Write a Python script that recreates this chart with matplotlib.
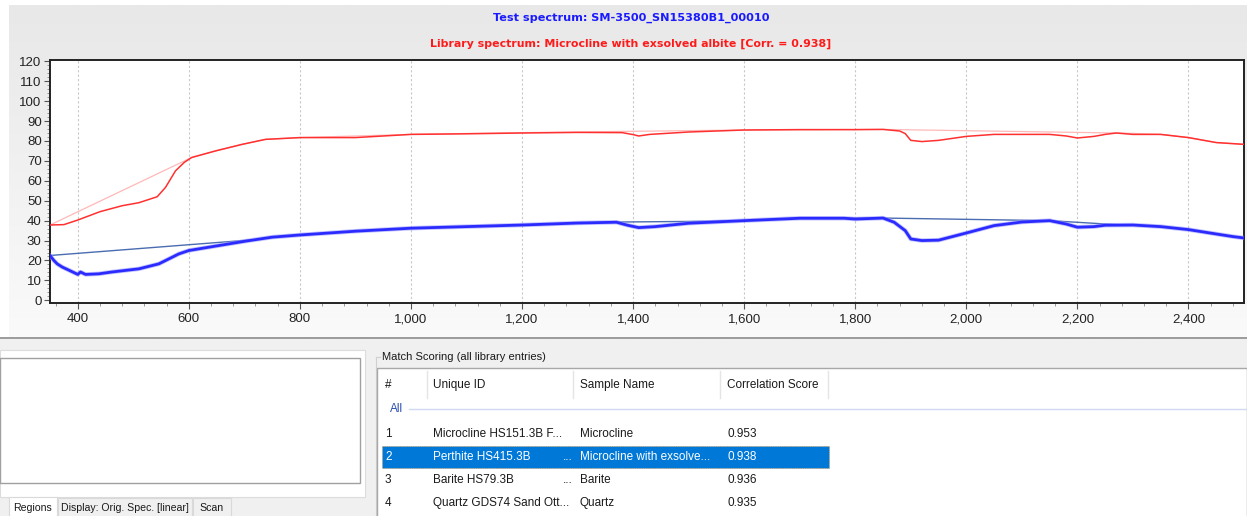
import matplotlib

matplotlib.use("Agg")
import matplotlib.pyplot as plt
import numpy as np
from matplotlib.colors import LinearSegmentedColormap
from matplotlib.patches import Rectangle
from matplotlib.ticker import FuncFormatter, MultipleLocator

W, H = 1247, 516

# ── Spectra (wavelength nm, reflectance %) ──────────────────────────────
lib_wl = [350, 375, 400, 440, 480, 510, 543, 558, 576, 592,
          605, 648, 696, 738, 800, 900, 1000, 1100, 1200, 1300,
          1380, 1400, 1410, 1430, 1500, 1600, 1700, 1800, 1850, 1880,
          1890, 1900, 1920, 1950, 2000, 2050, 2100, 2150, 2180, 2200,
          2230, 2250, 2270, 2300, 2350, 2400, 2450, 2500]
lib_val = [37.8, 38, 40.3, 44.5, 47.5, 49, 52, 56.7, 65, 69.3,
           71.7, 75, 78.3, 80.8, 81.7, 81.7, 83.3, 83.6, 84, 84.3,
           84.2, 83.2, 82.5, 83.3, 84.5, 85.5, 85.7, 85.7, 85.8, 85,
           83.7, 80.3, 79.7, 80.3, 82.3, 83.3, 83.3, 83.3, 82.5, 81.5,
           82.3, 83.3, 84, 83.3, 83.3, 81.7, 79.2, 78.3]
lib_hull_wl = [350, 605, 648, 696, 738, 800, 900, 1000, 1200, 1600,
               1850, 2270, 2300, 2350, 2400, 2450, 2500]
lib_hull_val = [37.8, 71.7, 75, 78.3, 80.8, 81.7, 82.5, 83.3, 84.2, 85.5,
                85.8, 84, 83.8, 83.3, 81.7, 79.2, 78.3]

test_wl = [350, 357, 363, 372, 385, 400, 405, 414, 438, 461,
           510, 546, 564, 582, 600, 654, 702, 750, 800, 900,
           1000, 1100, 1200, 1300, 1370, 1390, 1410, 1440, 1500, 1600,
           1700, 1780, 1800, 1850, 1870, 1890, 1900, 1920, 1950, 2000,
           2050, 2100, 2150, 2180, 2200, 2230, 2250, 2300, 2350, 2400,
           2450, 2480, 2500]
test_val = [22.5, 20, 18.3, 16.7, 15, 13, 14.2, 13, 13.3, 14.2,
            15.8, 18.3, 20.8, 23.3, 25, 27.5, 29.7, 31.7, 32.8, 34.7,
            36.2, 37, 37.8, 38.8, 39.2, 37.7, 36.5, 37, 38.7, 40,
            41.2, 41.2, 40.8, 41.3, 39.2, 35, 30.8, 30, 30.2, 33.8,
            37.5, 39.3, 40, 38.3, 36.7, 37, 37.7, 37.8, 37, 35.5,
            33.3, 32, 31.3]
test_hull_wl = [350, 720, 750, 800, 900, 1000, 1100, 1200, 1300, 1370,
                1500, 1600, 1700, 1780, 1850, 2150, 2270, 2300, 2350, 2400,
                2450, 2480, 2500]
test_hull_val = [22.5, 30.5, 31.7, 32.8, 34.7, 36.2, 37, 37.8, 38.8, 39.3,
                 39.6, 40, 41.2, 41.2, 41.3, 40, 38, 37.8, 37, 35.5,
                 33.3, 32, 31.3]

test_title = "Test spectrum: SM-3500_SN15380B1_00010"
lib_title = "Library spectrum: Microcline with exsolved albite [Corr. = 0.938]"

# ── Match scoring table ─────────────────────────────────────────────────
col_headers = ["#", "Unique ID", "Sample Name", "Correlation Score"]
rank = ["1", "2", "3", "4"]
unique_ids = ["Microcline HS151.3B F...", "Perthite HS415.3B", "Barite HS79.3B",
              "Quartz GDS74 Sand Ott..."]
sample_names = ["Microcline", "Microcline with exsolve...", "Barite", "Quartz"]
scores = ["0.953", "0.938", "0.936", "0.935"]
selected_row = 1
tab_labels = ["Regions", "Display: Orig. Spec. [linear]", "Scan"]

UI_FONT = ["Liberation Sans", "DejaVu Sans"]


def box(x0, y0, x1, y1):
    """Pixel box (top-left origin) -> figure fraction rect."""
    return [x0 / W, 1 - y1 / H, (x1 - x0) / W, (y1 - y0) / H]


fig = plt.figure(figsize=(W / 100, H / 100), dpi=100, facecolor="white")

# overlay axes in pixel coordinates for the window chrome
ui = fig.add_axes([0, 0, 1, 1], zorder=0)
ui.set_xlim(0, W)
ui.set_ylim(H, 0)
ui.axis("off")

# chart panel with a soft vertical gradient
grad = np.linspace(0, 1, 256).reshape(-1, 1)
panel_cmap = LinearSegmentedColormap.from_list("panel", ["#e8e8e8", "#fafafa"])
ui.imshow(grad, extent=(9, W, 337, 5), cmap=panel_cmap, aspect="auto", zorder=0)
ui.plot([0, W], [337.5, 337.5], color="#8a8a8a", lw=1.2, zorder=1)

# lower form background
ui.add_patch(Rectangle((0, 338.5), W, H - 338.5, facecolor="#f0f0f0", edgecolor="none", zorder=0))

# left tab page
ui.add_patch(Rectangle((0, 350), 365, 147, facecolor="white", edgecolor="#dcdcdc", lw=0.8, zorder=1))
ui.add_patch(Rectangle((0, 358), 360, 125, facecolor="white", edgecolor="#a0a0a0", lw=1.0, zorder=2))
tab_x = [(9, 57), (58, 192), (193, 231)]
for i, (lab, (x0, x1)) in enumerate(zip(tab_labels, tab_x)):
    fc = "white" if i == 0 else "#f0f0f0"
    ui.add_patch(Rectangle((x0, 497 if i == 0 else 498), x1 - x0, 20, facecolor=fc,
                           edgecolor="#d9d9d9", lw=0.8, zorder=2))
    ui.text((x0 + x1) / 2, 508, lab, fontsize=7.6, family=UI_FONT, va="center", ha="center",
            color="#1a1a1a", zorder=3)

# match scoring group + list
ui.plot([376, 380], [357, 357], color="#d0d0d0", lw=0.8, zorder=1)
ui.plot([376, 376], [357, H], color="#d0d0d0", lw=0.8, zorder=1)
ui.text(382, 357, "Match Scoring (all library entries)", fontsize=8, family=UI_FONT,
        va="center", ha="left", color="#1a1a1a", zorder=3)
ui.add_patch(Rectangle((377, 368), W - 377, H - 368 + 2, facecolor="white",
                       edgecolor="#a8a8a8", lw=1.0, zorder=2))
col_x = [385, 433, 580, 727]
for sx in [426.5, 573, 720, 828]:
    ui.plot([sx, sx], [371, 398], color="#e5e5e5", lw=1.0, zorder=3)
for cx, hd in zip(col_x, col_headers):
    ui.text(cx, 385, hd, fontsize=8.5, family=UI_FONT, va="center", ha="left",
            color="#1a1a1a", zorder=4)
ui.text(390, 409, "All", fontsize=8.5, family=UI_FONT, va="center", ha="left",
        color="#2a4fb0", zorder=4)
ui.plot([409, W], [409, 409], color="#cfdaf2", lw=1.0, zorder=3)

row_y = [434, 457, 480, 503]
for i, ry in enumerate(row_y):
    tc = "#1a1a1a"
    if i == selected_row:
        ui.add_patch(Rectangle((382, ry - 11), 447, 22, facecolor="#0078d7",
                               edgecolor="#d08a3a", lw=0.6, ls=":", zorder=3))
        tc = "white"
    uid = unique_ids[i]
    ui.text(col_x[0], ry, rank[i], fontsize=8.5, family=UI_FONT, va="center", color=tc, zorder=4)
    ui.text(col_x[1], ry, uid, fontsize=8.5, family=UI_FONT, va="center", color=tc, zorder=4)
    if not uid.endswith("..."):
        ui.text(563, ry, "...", fontsize=8.5, family=UI_FONT, va="center", color=tc, zorder=4)
    ui.text(col_x[2], ry, sample_names[i], fontsize=8.5, family=UI_FONT, va="center", color=tc, zorder=4)
    ui.text(col_x[3], ry, scores[i], fontsize=8.5, family=UI_FONT, va="center", color=tc, zorder=4)

# titles
ui.text(631, 18, test_title, fontsize=8.1, fontweight="bold", family=["DejaVu Sans"],
        color="#1a1aff", ha="center", va="center", zorder=3)
ui.text(631, 44, lib_title, fontsize=7.9, family=["DejaVu Sans"], fontweight="bold",
        color="#ff1a1a", ha="center", va="center", zorder=3)

# ── Spectrum plot ───────────────────────────────────────────────────────
ax = fig.add_axes(box(50, 60.3, 1244, 303.3), zorder=2)
ax.set_facecolor("white")
ax.plot(lib_hull_wl, lib_hull_val, color="#ffb8b8", lw=0.9, zorder=2)
ax.plot(lib_wl, lib_val, color="#ff3030", lw=1.1, zorder=3)
ax.plot(test_hull_wl, test_hull_val, color="#4a6cb0", lw=1.0, zorder=2)
ax.plot(test_wl, test_val, color="#9a9aff", lw=3.2, alpha=0.6, zorder=3,
        solid_capstyle="round")
ax.plot(test_wl, test_val, color="#2b2bff", lw=2.0, zorder=4)

ax.set_xlim(350, 2500)
ax.set_ylim(-1.5, 120.5)
ax.xaxis.set_major_locator(MultipleLocator(200))
ax.xaxis.set_minor_locator(MultipleLocator(40))
ax.yaxis.set_major_locator(MultipleLocator(10))
ax.yaxis.set_minor_locator(MultipleLocator(2))
ax.xaxis.set_major_formatter(FuncFormatter(lambda v, _: f"{int(v):,}"))
ax.grid(True, axis="x", which="major", color="#c8c8c8", ls=(0, (2, 2)), lw=0.8)
ax.tick_params(axis="both", which="major", direction="out", length=4, width=0.8,
               color="#555555", labelsize=9.5, labelcolor="#222222", pad=2)
ax.tick_params(axis="both", which="minor", direction="out", length=2, width=0.6,
               color="#888888")
ax.tick_params(axis="x", which="major", pad=3)
for lab in ax.get_xticklabels() + ax.get_yticklabels():
    lab.set_family(UI_FONT)
for sp in ax.spines.values():
    sp.set_color("#222222")
    sp.set_linewidth(1.4)

plt.savefig("out.png", dpi=100, facecolor=fig.get_facecolor())
plt.close()
